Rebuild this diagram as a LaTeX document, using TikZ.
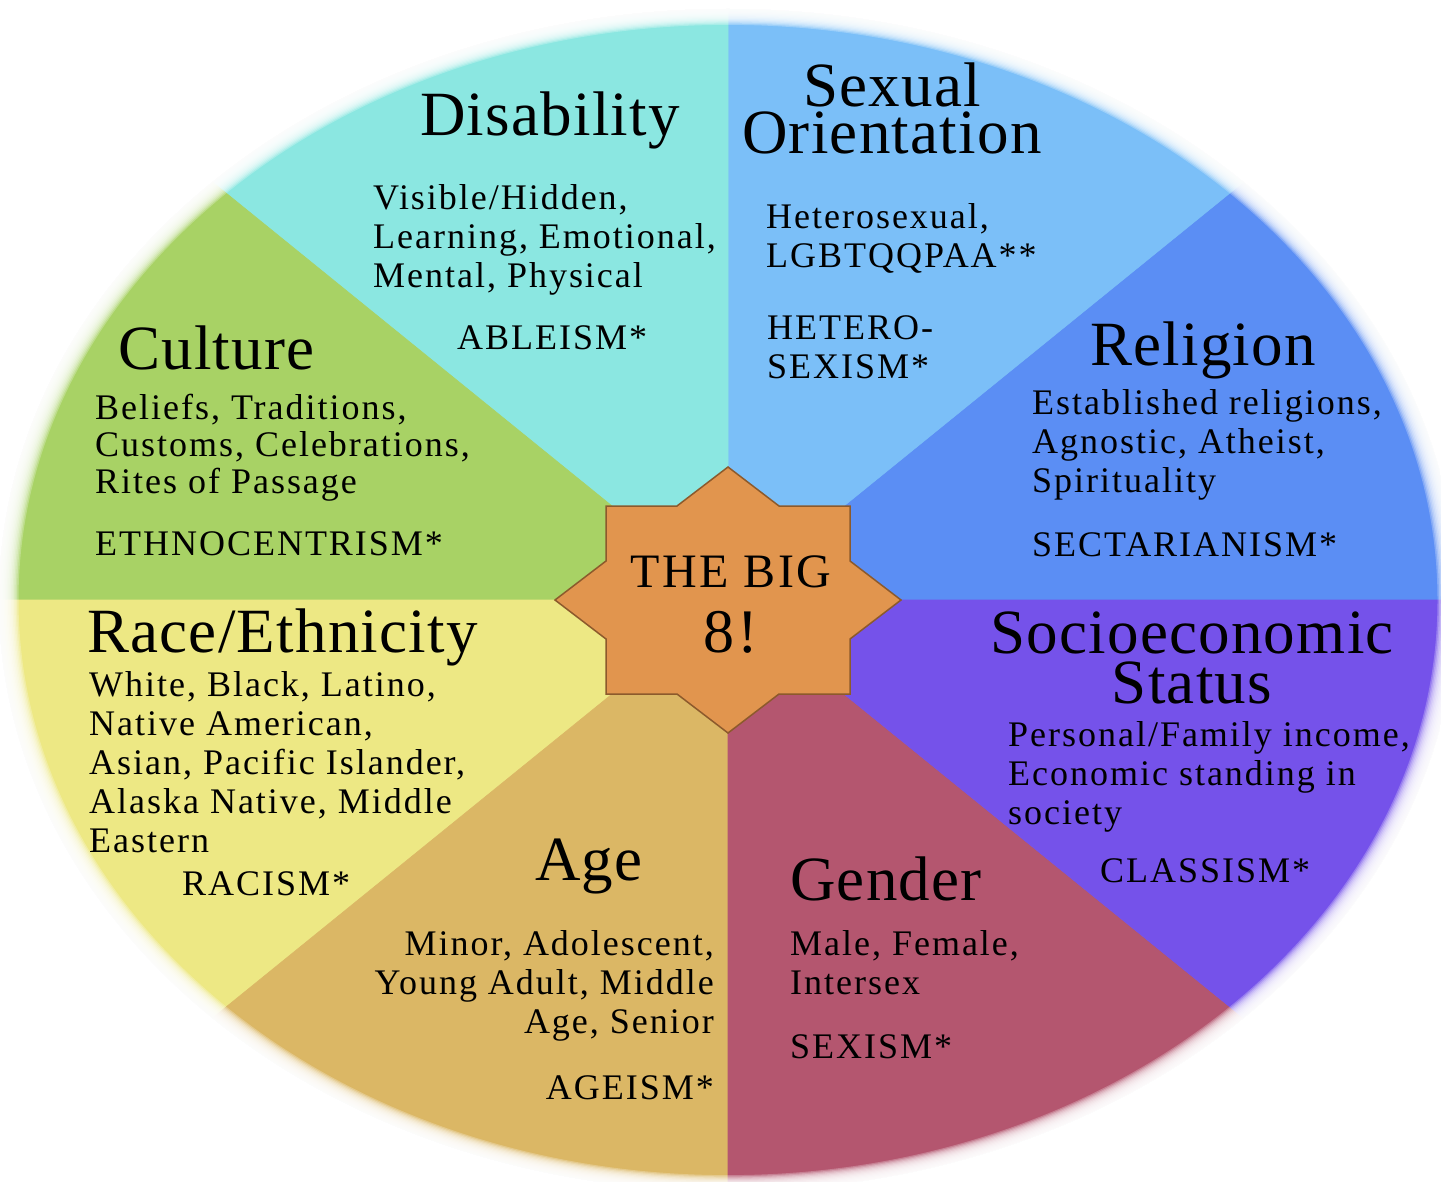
\documentclass[tikz,border=0pt]{standalone}
\usepackage{fontspec}
\setmainfont{Liberation Serif}
\newfontfamily\headfont{Liberation Serif}[LetterSpace=2]
\newfontfamily\listfont{Liberation Serif}[LetterSpace=5.5]

\definecolor{disabcol}{HTML}{8BE7E1}
\definecolor{orientcol}{HTML}{7BBFF8}
\definecolor{religcol}{HTML}{5B8EF4}
\definecolor{sescol}{HTML}{7552EA}
\definecolor{gendercol}{HTML}{B4566F}
\definecolor{agecol}{HTML}{DBB765}
\definecolor{racecol}{HTML}{EDE884}
\definecolor{culturecol}{HTML}{A8D265}
\definecolor{starcol}{HTML}{E1954E}
\definecolor{starline}{HTML}{8C5A2C}

\begin{document}
\begin{tikzpicture}[
    x=1pt, y=-1pt,
    head/.style={font=\headfont\fontsize{63}{47}\selectfont, inner sep=0pt},
    items/.style={font=\listfont\fontsize{36}{39}\selectfont, align=left, inner sep=0pt},
    bigstar/.style={fill=starcol, draw=starline, line width=1.5pt, line join=miter},
    startext/.style={font=\listfont\fontsize{48}{65}\selectfont, align=center, inner sep=0pt},
    rim/.style={fill=white, opacity=0.25, even odd rule}
]
\fill[white] (0,0) rectangle (1441,1182);
\useasboundingbox (0,0) rectangle (1441,1182);

\coordinate (hub) at (728,600);

% wheel segments
\begin{scope}
    \clip (hub) ellipse[x radius=729pt, y radius=591pt];
    \foreach \a/\col in {0/religcol, 45/orientcol, 90/disabcol, 135/culturecol,
                         180/racecol, 225/agecol, 270/gendercol, 315/sescol}
        \filldraw[fill=\col, draw=\col, line width=0.6pt] (hub) -- ++(\a:740pt and 600pt)
            arc[start angle=\a, end angle=\a+45, x radius=740pt, y radius=600pt] -- cycle;
\end{scope}

% 1. Disability
\node[head, anchor=base west] (disab) at (420,136) {Disability};
\node[items, anchor=base west] (disabitems) at (373,288) {Visible/Hidden,\\Learning, Emotional,\\Mental, Physical};
\node[items, anchor=base west] (ableism) at (457,350) {ABLEISM*};

% 2. Sexual Orientation
\node[head, align=center, anchor=base] (orient) at (892,154) {Sexual\\Orientation};
\node[items, anchor=base west] (orientitems) at (766,268) {Heterosexual,\\LGBTQQPAA**};
\node[items, anchor=base west] (heterosexism) at (767,378) {HETERO-\\SEXISM*};

% 3. Religion
\node[head, anchor=base west] (relig) at (1090,366) {Religion};
\node[items, anchor=base west] (religitems) at (1032,492) {Established religions,\\Agnostic, Atheist,\\Spirituality};
\node[items, anchor=base west] (sectarianism) at (1032,556) {SECTARIANISM*};

% 4. Socioeconomic Status
\node[head, align=center, anchor=base] (ses) at (1192,703) {Socioeconomic\\[3pt]Status};
\node[items, anchor=base west] (sesitems) at (1008,824) {Personal/Family income,\\Economic standing in\\society};
\node[items, anchor=base west] (classism) at (1100,882) {CLASSISM*};

% 5. Gender
\node[head, anchor=base west] (gender) at (790,900) {Gender};
\node[items, anchor=base west] (genderitems) at (790,994) {Male, Female,\\Intersex};
\node[items, anchor=base west] (sexism) at (790,1058) {SEXISM*};

% 6. Age
\node[head, anchor=base west] (age) at (535,880) {Age};
\node[items, align=right, anchor=base east] (ageitems) at (714,1033) {Minor, Adolescent,\\Young Adult, Middle\\Age, Senior};
\node[items, anchor=base east] (ageism) at (714,1099) {AGEISM*};

% 7. Race/Ethnicity
\node[head, anchor=base west] (race) at (87,652) {Race/Ethnicity};
\node[items, anchor=base west] (raceitems) at (89,852) {White, Black, Latino,\\Native American,\\Asian, Pacific Islander,\\Alaska Native, Middle\\Eastern};
\node[items, anchor=base west] (racism) at (182,895) {RACISM*};

% 8. Culture
\node[head, anchor=base west] (culture) at (118,370) {Culture};
\node[items, anchor=base west] (cultureitems) at (95,493) {Beliefs, Traditions,\\[-2pt]Customs, Celebrations,\\[-2pt]Rites of Passage};
\node[items, anchor=base west] (ethnocentrism) at (95,555) {ETHNOCENTRISM*};

% centre star
\begin{scope}[shift={(hub)}]
    \draw[bigstar] (173,0) -- (122,39) -- (122,94) -- (51,94) -- (0,133) -- (-51,94)
        -- (-122,94) -- (-122,39) -- (-173,0) -- (-122,-39) -- (-122,-94) -- (-51,-94)
        -- (0,-133) -- (51,-94) -- (122,-94) -- (122,-39) -- cycle;
\end{scope}
\node[startext, anchor=base] (big8) at (731,652) {THE BIG\\{\fontsize{62}{65}\selectfont 8!}};

% soft white rim over the edge
\foreach \k in {0,...,13} {
    \pgfmathsetmacro\rx{729-1.5*\k}
    \pgfmathsetmacro\ry{591-1.22*\k}
    \fill[rim] (-20,-20) rectangle (1461,1202) (hub) ellipse[x radius=\rx pt, y radius=\ry pt];
}
\end{tikzpicture}
\end{document}
